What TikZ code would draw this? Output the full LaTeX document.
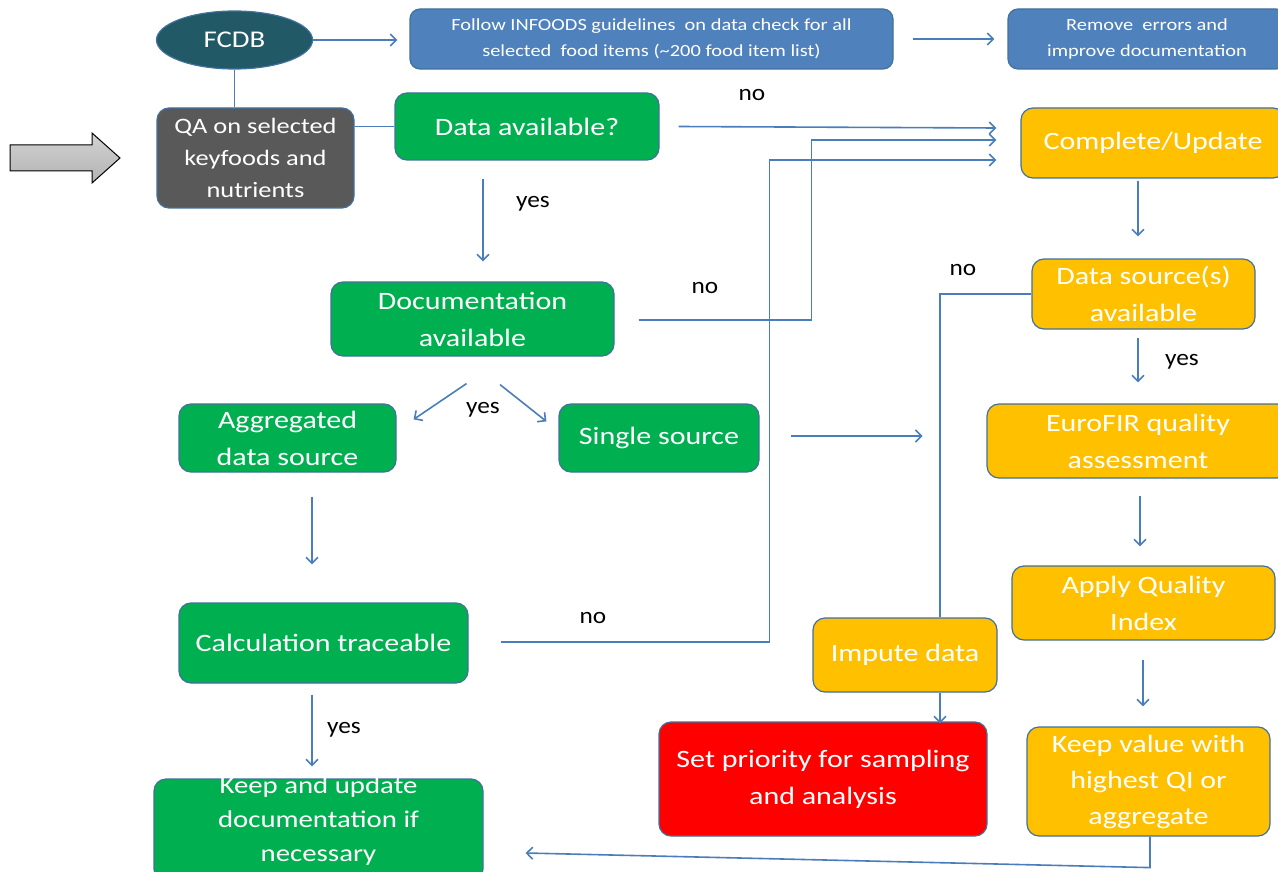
\documentclass[tikz,border=0pt]{standalone}
\usepackage{fontspec}
\setmainfont{Carlito}[FakeStretch=1.2]
\newfontfamily\labelfont{Carlito}[FakeStretch=1.1]
\usetikzlibrary{arrows.meta,shapes.geometric,calc}
\definecolor{fgreen}{HTML}{00B050}
\definecolor{forange}{HTML}{FFC000}
\definecolor{fred}{HTML}{FF0000}
\definecolor{fblue}{HTML}{4F81BD}
\definecolor{fteal}{HTML}{215967}
\definecolor{fgrey}{HTML}{595959}
\definecolor{boxline}{HTML}{41719C}
\definecolor{cline}{HTML}{4A7EBB}
\tikzset{
  box/.style={draw=boxline, line width=1.2pt, rounded corners=12pt, text=white, align=center, inner sep=2pt, font=\fontsize{25}{37}\selectfont},
  gbox/.style={box, fill=fgreen},
  obox/.style={box, fill=forange},
  bbox/.style={box, fill=fblue, rounded corners=10pt, font=\fontsize{17}{26}\selectfont},
  conn/.style={draw=cline, line width=1.6pt},
  arr/.style={conn, -{Straight Barb[length=6pt,width=12pt,line width=1.6pt]}},
  lab/.style={font=\labelfont\fontsize{23}{26}\selectfont, text=black, inner sep=0pt}
}
\begin{document}
\begin{tikzpicture}[x=1pt,y=-1pt]
\clip (0,0) rectangle (1278,872);
\fill[white] (0,0) rectangle (1278,872);
% block arrow
\shade[top color=gray!35, middle color=gray!5, bottom color=gray!60]
  (10,145) -- (92,145) -- (92,133) -- (120,158) -- (92,183) -- (92,171) -- (10,171) -- cycle;
\draw[black, line width=1pt]
  (10,145) -- (92,145) -- (92,133) -- (120,158) -- (92,183) -- (92,171) -- (10,171) -- cycle;
% nodes
\node[ellipse, draw=boxline, line width=1.2pt, fill=fteal, text=white, minimum width=156, minimum height=58, inner sep=0pt, font=\fontsize{24}{28}\selectfont] (fcdb) at (234.5,40) {FCDB};
\node[bbox, minimum width=483, minimum height=60] (follow) at (651.5,39) {Follow INFOODS guidelines\ \ on data check for all\\selected\ \ food items (\textasciitilde200 food item list)};
\node[bbox, minimum width=278, minimum height=60] (remove) at (1147,39) {Remove\ \ errors and\\improve documentation};
\node[box, fill=fgrey, minimum width=197, minimum height=100, font=\fontsize{22}{32}\selectfont] (qa) at (255.5,158) {QA on selected\\keyfoods and\\nutrients};
\node[gbox, minimum width=264, minimum height=67] (dataav) at (527,126.5) {Data available?};
\node[obox, minimum width=264, minimum height=70] (complete) at (1153,143) {Complete/Update};
\node[gbox, minimum width=283, minimum height=74] (doc) at (472.5,319) {Documentation\\available};
\node[obox, minimum width=223, minimum height=70] (dsrc) at (1143.5,294) {Data source(s)\\available};
\node[gbox, minimum width=217, minimum height=68] (agg) at (287.5,438) {Aggregated\\data source};
\node[gbox, minimum width=200, minimum height=68] (single) at (659,438) {Single source};
\node[obox, minimum width=302, minimum height=74] (euro) at (1138,441) {EuroFIR quality\\assessment};
\node[obox, minimum width=263, minimum height=74] (apply) at (1143.5,603) {Apply Quality\\Index};
\node[obox, minimum width=184, minimum height=74] (impute) at (905,655) {Impute data};
\node[gbox, minimum width=289, minimum height=80] (calc) at (323.5,643) {Calculation traceable};
\node[box, fill=fred, minimum width=328, minimum height=114] (setp) at (823,779) {Set priority for sampling\\and analysis};
\node[obox, minimum width=243, minimum height=109, font=\fontsize{25}{36}\selectfont] (keepv) at (1148.5,781.5) {Keep value with\\highest QI or\\aggregate};
\node[gbox, minimum width=329, minimum height=102] (keepu) at (318.5,830) {};
\node[text=white, align=center, inner sep=0pt, font=\fontsize{24}{34}\selectfont] (keeput) at (318.5,821) {Keep and update\\documentation if\\necessary};
% connectors
\draw[arr, shorten >=12pt] (fcdb.east) -- (fcdb.east -| follow.west);
\draw[arr] ($(follow.east)+(19,0)$) -- ($(remove.west)+(-13,0)$);
\draw[conn] (fcdb.south) -- (fcdb.south |- qa.north);
\draw[conn] (dataav.west -| qa.east) -- (dataav.west);
\draw[arr] ($(dataav.east)+(19,0)$) -- ($(complete.west)+(-24,-15)$);
\draw[arr] ($(doc.east)+(24,1)$) -| ($(complete.west)+(-209,-3)$) -- ($(complete.west)+(-24,-3)$);
\draw[arr] ($(calc.east)+(32,-1)$) -| ($(complete.west)+(-251,17)$) -- ($(complete.west)+(-24,17)$);
\draw[arr] ($(dataav.south)+(-44,18)$) -- ($(doc.north)+(10.5,-20)$);
\draw[arr] ($(doc.south)+(-6,27)$) -- ($(agg.north east)+(17,16)$);
\draw[arr] ($(doc.south)+(27.5,28)$) -- ($(single.north west)+(-12,18)$);
\draw[arr] ($(agg.south)+(24.5,24)$) -- ($(calc.north)+(-11.5,-38)$);
\draw[arr] ($(calc.south)+(-11.5,11)$) -- ($(keepu.north)+(-6.5,-12)$);
\coordinate (sfree) at ($(single.east)+(163,-2)$);
\draw[arr] ($(single.east)+(31,-2)$) -- (sfree);
\draw[arr] ($(complete.south)+(-15,2)$) -- ($(dsrc.north)+(-5.5,-22)$);
\draw[arr] ($(dsrc.south)+(-5.5,8)$) -- ($(euro.north)+(0,-21)$);
\draw[conn] (dsrc.west) -| ($(impute.north)+(35,0)$);
\draw[arr] ($(impute.south)+(35,0)$) -- ($(setp.north)+(117,2)$);
\draw[arr] ($(euro.south)+(2,17)$) -- ($(apply.north)+(-3.5,-19)$);
\draw[arr] ($(apply.south)+(-0.5,19)$) -- ($(keepv.north)+(-5.5,-20)$);
\draw[arr] ($(keepv.south)+(1.5,0)$) -- ($(keepv.south)+(1.5,31)$) -- ($(keepu.east)+(42,23)$);
% labels
\node[lab] (l1) at (752,95) {no};
\node[lab] (l2) at (533,204) {yes};
\node[lab] (l3) at (705,288) {no};
\node[lab] (l4) at (483,410) {yes};
\node[lab] (l5) at (963,270) {no};
\node[lab] (l6) at (1182,362) {yes};
\node[lab] (l7) at (593,618) {no};
\node[lab] (l8) at (344,730) {yes};
\end{tikzpicture}
\end{document}
